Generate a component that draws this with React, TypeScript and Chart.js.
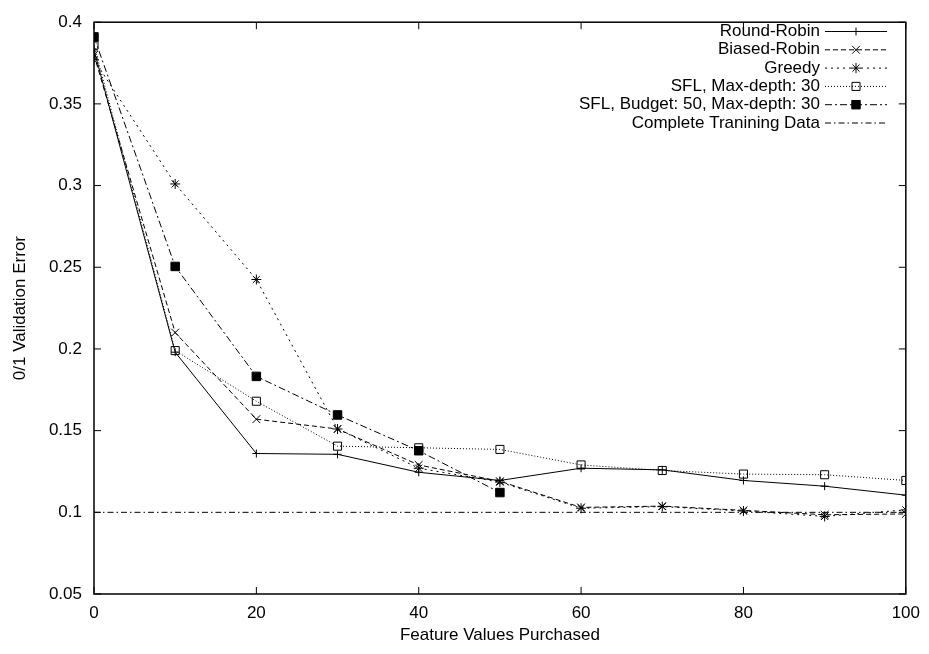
import React, { useEffect, useRef } from 'react';
import { Chart, registerables } from 'chart.js';
import { drawPoint } from 'chart.js/helpers';

Chart.register(...registerables);

const xValues = [0, 10, 20, 30, 40, 50, 60, 70, 80, 90, 100];
const budgetX = [0, 10, 20, 30, 40, 50];

const roundRobin = [0.383, 0.198, 0.136, 0.1355, 0.1245, 0.1195, 0.127, 0.126, 0.1195, 0.116, 0.1105];
const biasedRobin = [0.380, 0.210, 0.157, 0.151, 0.129, 0.119, 0.103, 0.1038, 0.1012, 0.0985, 0.099];
const greedy = [0.377, 0.301, 0.2425, 0.151, 0.127, 0.1185, 0.1025, 0.1035, 0.1008, 0.0975, 0.1015];
const sflMaxDepth = [0.386, 0.199, 0.168, 0.1405, 0.1395, 0.1385, 0.129, 0.1256, 0.1234, 0.123, 0.1195];
const sflBudget = [0.391, 0.2505, 0.1832, 0.1596, 0.1377, 0.1121];
const completeData = [0.1, 0.1, 0.1, 0.1, 0.1, 0.1, 0.1, 0.1, 0.1, 0.1, 0.1];

const seriesLabels = [
  'Round-Robin',
  'Biased-Robin',
  'Greedy',
  'SFL, Max-depth: 30',
  'SFL, Budget: 50, Max-depth: 30',
  'Complete Tranining Data',
];

const xTitle = 'Feature Values Purchased';
const yTitle = '0/1 Validation Error';

const FONT = '"Liberation Sans", Arial, Helvetica, sans-serif';
const FS = 17;

const pts = (xs: number[], ys: number[]) => xs.map((x, i) => ({ x, y: ys[i] }));

const frameTicksPlugin = {
  id: 'frameTicks',
  afterDatasetsDraw(chart: any) {
    const { ctx, chartArea: a, scales } = chart;
    ctx.save();
    ctx.strokeStyle = '#000';
    ctx.lineWidth = 1;
    const L = 7;
    ctx.beginPath();
    scales.x.ticks.forEach((t: any) => {
      const px = scales.x.getPixelForValue(t.value);
      ctx.moveTo(px, a.bottom);
      ctx.lineTo(px, a.bottom - L);
      ctx.moveTo(px, a.top);
      ctx.lineTo(px, a.top + L);
    });
    scales.y.ticks.forEach((t: any) => {
      const py = scales.y.getPixelForValue(t.value);
      ctx.moveTo(a.left, py);
      ctx.lineTo(a.left + L, py);
      ctx.moveTo(a.right, py);
      ctx.lineTo(a.right - L, py);
    });
    ctx.stroke();
    ctx.lineWidth = 1.5;
    ctx.strokeRect(a.left, a.top, a.right - a.left, a.bottom - a.top);
    ctx.restore();
  },
};

const keyPlugin = {
  id: 'gnuKey',
  afterDraw(chart: any) {
    const { ctx } = chart;
    const textRight = 820;
    const sx0 = 825;
    const sx1 = 887;
    const y0 = 31.5;
    const dy = 18.3;
    ctx.save();
    chart.data.datasets.forEach((ds: any, i: number) => {
      const y = y0 + i * dy;
      ctx.font = `${FS}px ${FONT}`;
      ctx.fillStyle = '#000';
      ctx.textAlign = 'right';
      ctx.textBaseline = 'middle';
      ctx.fillText(ds.label, textRight, y);
      ctx.strokeStyle = '#000';
      ctx.lineWidth = ds.borderWidth || 1;
      ctx.setLineDash(ds.borderDash || []);
      ctx.beginPath();
      ctx.moveTo(sx0, y);
      ctx.lineTo(sx1, y);
      ctx.stroke();
      ctx.setLineDash([]);
      if (ds.pointRadius > 0) {
        ctx.fillStyle = ds.pointBackgroundColor || '#fff';
        ctx.strokeStyle = '#000';
        ctx.lineWidth = ds.pointBorderWidth || 1;
        drawPoint(ctx, { pointStyle: ds.pointStyle, radius: ds.pointRadius, rotation: 0, borderWidth: ctx.lineWidth }, (sx0 + sx1) / 2, y);
      }
    });
    ctx.restore();
  },
};

export default function App() {
  const ref = useRef<HTMLCanvasElement>(null);
  useEffect(() => {
    document.body.style.margin = '0';
    const base = {
      borderColor: '#000',
      borderWidth: 1,
      pointBorderColor: '#000',
      pointBorderWidth: 1,
      fill: false,
      tension: 0,
    };
    const chart = new Chart(ref.current as HTMLCanvasElement, {
      type: 'line',
      data: {
        datasets: [
          { ...base, label: seriesLabels[0], data: pts(xValues, roundRobin), borderDash: [], pointStyle: 'cross', pointRadius: 4, pointBackgroundColor: '#000' },
          { ...base, label: seriesLabels[1], data: pts(xValues, biasedRobin), borderDash: [5, 3], pointStyle: 'crossRot', pointRadius: 5.5, pointBackgroundColor: '#000' },
          { ...base, label: seriesLabels[2], data: pts(xValues, greedy), borderDash: [2, 4], pointStyle: 'star', pointRadius: 5, pointBackgroundColor: '#000' },
          { ...base, label: seriesLabels[3], data: pts(xValues, sflMaxDepth), borderDash: [1, 2], pointStyle: 'rect', pointRadius: 5.7, pointBackgroundColor: 'rgba(255,255,255,0)' },
          { ...base, label: seriesLabels[4], data: pts(budgetX, sflBudget), borderDash: [7, 3, 2, 3], pointStyle: 'rect', pointRadius: 6, pointBackgroundColor: '#000' },
          { ...base, label: seriesLabels[5], data: pts(xValues, completeData), borderDash: [6, 3, 1.5, 3], pointStyle: 'circle', pointRadius: 0, pointBackgroundColor: '#000' },
        ] as any,
      },
      options: {
        responsive: false,
        animation: false,
        devicePixelRatio: 1,
        layout: { padding: { top: 14, right: 19, left: 0, bottom: 0 } },
        plugins: { legend: { display: false }, tooltip: { enabled: false } },
        elements: { point: { hoverRadius: 0 } },
        scales: {
          x: {
            type: 'linear',
            min: 0,
            max: 100,
            grid: { display: false, drawTicks: false },
            border: { display: false },
            ticks: { stepSize: 20, padding: 9, color: '#000', font: { family: FONT, size: FS }, maxRotation: 0 },
            title: { display: true, text: xTitle, color: '#000', font: { family: FONT, size: FS }, padding: { top: 0, bottom: 8 } },
            afterFit: (s: any) => { s.height = 60; },
          },
          y: {
            type: 'linear',
            min: 0.05,
            max: 0.4,
            grid: { display: false, drawTicks: false },
            border: { display: false },
            ticks: {
              stepSize: 0.05,
              padding: 12,
              color: '#000',
              font: { family: FONT, size: FS },
              callback: (v: any) => String(Math.round(Number(v) * 100) / 100),
            },
            title: { display: true, text: yTitle, color: '#000', font: { family: FONT, size: FS }, padding: { top: 10, bottom: 0 } },
            afterFit: (s: any) => { s.width = 94; },
          },
        },
      } as any,
      plugins: [frameTicksPlugin, keyPlugin],
    });
    return () => chart.destroy();
  }, []);
  return (
    <div style={{ width: 929, height: 654 }}>
      <canvas ref={ref} width={929} height={654} style={{ display: 'block' }} />
    </div>
  );
}
